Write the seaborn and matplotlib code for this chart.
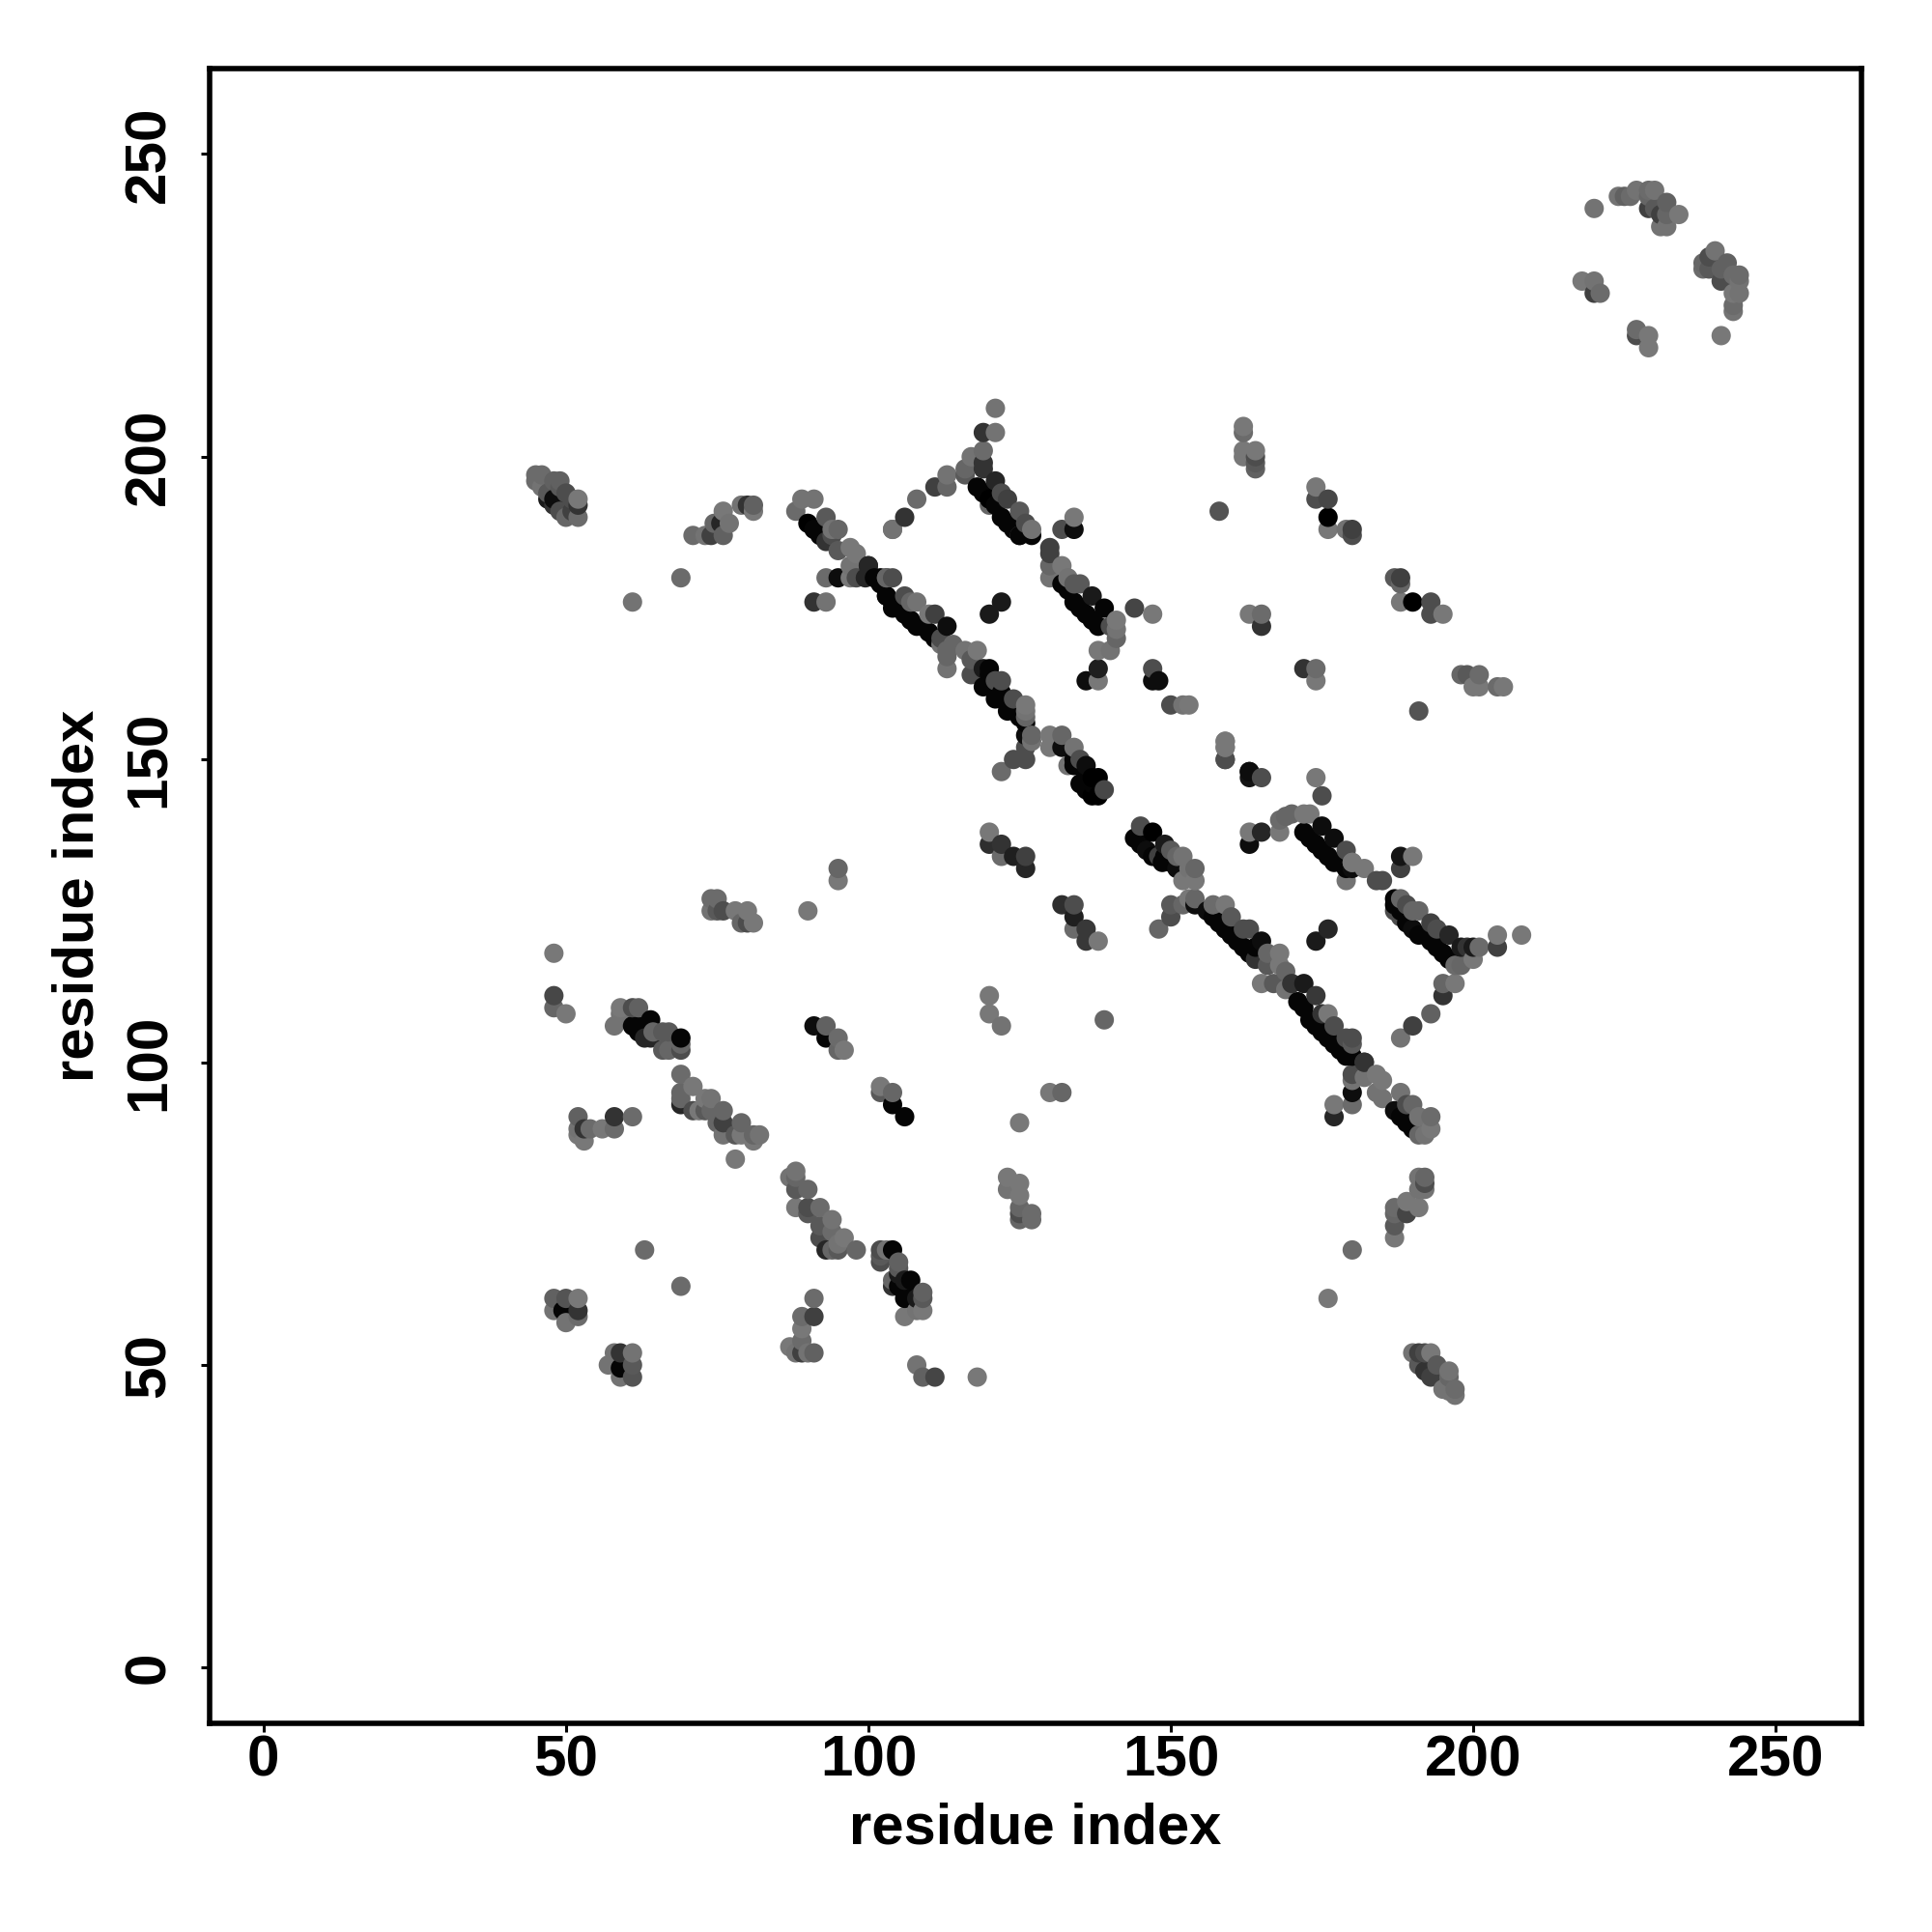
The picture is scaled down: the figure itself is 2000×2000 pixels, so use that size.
import matplotlib
matplotlib.use("Agg")
import matplotlib.pyplot as plt
import pandas as pd
import seaborn as sns

# Contact map: residue pairs (x, y) with grey shade (0 = black), grouped by region
a_x = [45,46,45,46,47,48,47,48,49,50,52,51,52,48,49,49,50,51,52]
a_y = [197,197,196,195,194,193,193,192,191,190,190,191,192,196,196,195,194,193,193]
a_g = [.42,.42,.42,.45,.35,.05,.10,.20,.30,.40,.42,.25,.20,.38,.38,.35,.30,.30,.47]

b_x = [61,69,71,73,74,76,74.5,77,75.6,76,79,80,81,81]
b_y = [176,180,187,187,187,187,189,189,189,191,192,192,192,191]
b_g = [.45,.42,.42,.45,.25,.38,.40,.45,.15,.47,.45,.20,.38,.47]

c_x = [88,89,91,90,92,93,94,95,95,97,98,97,100,104,93,95,97,98,99.5,102,103,91,93,103,104]
c_y = [191,193,193,189,187,190,188,188,184.5,185,184,182,182,188,180,180,180,180,180,180,180,176,176,177,175]
c_g = [.42,.45,.45,.0,.02,.35,.45,.40,.35,.47,.47,.45,.15,.45,.42,.05,.47,.30,.15,.02,.25,.20,.45,.02,.02]

d_x = [121,119,121,119,119,119,117,116,116,113,113,111,108,106,104]
d_y = [208,204,204,201,199,198,200,198,197,197,195,195,193,190,188]
d_g = [.45,.20,.45,.42,.20,.20,.45,.40,.35,.45,.40,.25,.42,.20,.45]

e_x = [118,120,122,124,125,127,121,122,123,125,126,127,120,134,132,134]
e_y = [195,193,190,188,187,187,196,194,193,191,189,188,192,190,188,188]
e_g = [.02,.0,.02,.02,.30,.02,.15,.30,.25,.35,.30,.45,.40,.47,.30,.05]

f_x = [130,130,130,130,132,133,132,134,136,138,134,135,137,139,140,141,141,141,140,138,138,138,136]
f_y = [185,184,182,180,182,180,179,176,174,172,179,179,177,175,172,173,171.5,170,168,168,165,163,163]
f_g = [.25,.25,.40,.45,.47,.45,.02,.02,.02,.02,.35,.35,.10,.02,.30,.47,.45,.40,.45,.47,.12,.47,.05]

g_x = [144,147,147,147,148,150,152,153,158,122,120,159,159,159,163]
g_y = [175,174,165,163,163,159,159,159,191,176,174,153,152,150,148]
g_g = [.27,.47,.30,.05,.05,.30,.45,.47,.33,.10,.10,.47,.45,.27,.05]

h_x = [100,101,103,105,107,110,104,103,106,107,108,111,110,113,112,112,113,113,113,114,116,118,117,117]
h_y = [182,180,177,175,173,171,180,180,177,176,176,174,174,172,170,169,168,167,165,169,168,168,166.5,164]
h_g = [.15,.02,.02,.02,.02,.02,.30,.40,.30,.40,.45,.25,.47,.05,.30,.45,.40,.40,.45,.40,.45,.47,.35,.30]

i_x = [120,119,119,121,123,125,122,121,124,126,126,126]
i_y = [165,165,162,160,158,157,163,163,160,159,158,157]
i_g = [.02,.10,.02,.02,.02,.02,.30,.30,.30,.47,.45,.40]

j_x = [126,127,126,127,126,124,122,130,130,132,134,132,135,136,134]
j_y = [154,154,152,153,150,150,148,154,152,154,152,152,150,149,149]
j_g = [.05,.40,.30,.45,.30,.30,.42,.47,.47,.40,.45,.05,.30,.05,.02]

k_x = [133,135,137,138,137,138,139,159,159,159,163,163,165,174,175]
k_y = [149,146,147,147,144,144,145,153,152,150,148,147,147,147,144]
k_g = [.45,.02,.0,.0,.0,.0,.28,.47,.47,.30,.05,.08,.30,.47,.30]

l_x = [168,168,170,169,172,173,175,172,174,177,176,179,180,179,179,163,165,163]
l_y = [140,138,141,140.6,141,141,139,138,136,137,134,135,133,132,130,138,138,136]
l_g = [.42,.47,.40,.40,.47,.47,.05,.02,.02,.05,.02,.30,.47,.02,.45,.47,.15,.05]

m_x = [144,145,147,146,148,149,150,148.6,151,152,151,153,154,152,154]
m_y = [137,139,138,135,134,136,135,133,134,134,132,132,132,130,130]
m_g = [.02,.30,.0,.05,.25,.10,.35,.02,.40,.45,.05,.45,.40,.47,.47]

n_x = [154,153,154,152,150,150,148,157,159,156,160,158,160,162,163,162,165,164,168,166,168,169,166,165,167,169,170]
n_y = [127,127,126,126,126,124,122,126,126,125,124,123,121,119,122,122,120,117,118,118,116,115,116,113,113,112,113]
n_g = [.40,.47,.05,.40,.35,.30,.40,.42,.47,.05,.35,.02,.02,.02,.30,.30,.05,.20,.47,.40,.47,.40,.35,.47,.35,.45,.20]

o_x = [172,171,174,173,175,177,176,177,175,179,180,180,179,182]
o_y = [113,110,111,107,105,103,108,106,108,104,104,103,101,100]
o_g = [.10,.02,.22,.02,.02,.02,.47,.30,.20,.30,.30,.35,.02,.25]

p_x = [120,120,122,122,124,126,126,132,134,134,134,136,136,138,120,120,122,139,176,174,130,132]
p_y = [138,136,136,134,134,134,132,126,126,124,122,122,120,120,111,108,106,107,122,120,95,95]
p_g = [.47,.18,.20,.42,.12,.25,.15,.18,.30,.12,.42,.22,.22,.47,.47,.47,.45,.40,.15,.10,.47,.40]

q_x = [180,180,182,184,185,188,188,190]
q_y = [133,132,132,130,130,134,132,134]
q_g = [.47,.05,.47,.30,.30,.08,.25,.47]

r_x = [187,188,187,187,188,189,190,191,190,193,193,194,195,196,197,198,199,198,200,200,201,204,204,208]
r_y = [127,127,126,125,124,126,125,125,122,123,120,122,118,121,116,119,119,116,117,119,119,119,121,121]
r_g = [.02,.40,.02,.30,.30,.30,.40,.40,.05,.25,.02,.30,.02,.15,.42,.10,.20,.40,.47,.10,.42,.25,.47,.47]

s_x = [195,197,195,193,190,188,180,180,180,180,177,177,182,182,184,185,184,185,187,188,189,190,189,191,191,192,193,193]
s_y = [113,113,111,108,106,104,98,97,95,93,93,91,100,97.5,98,97,95,94,92,95,90,93,93,91,88,88,91,89]
s_g = [.40,.47,.20,.38,.25,.45,.30,.45,.05,.42,.47,.15,.20,.45,.47,.47,.45,.45,.05,.45,.02,.40,.30,.45,.40,.45,.42,.47]

t_x = [191,192,191,192,192,189,191,189,187,187,187,187,180,176]
t_y = [81,81,79,79,80,77,76,75,76,75,73,71,69,61]
t_g = [.45,.40,.45,.45,.30,.47,.47,.27,.42,.40,.35,.47,.42,.47]

u_x = [190,191,192,193,191,192,193,194,195,196,196,196,197,197]
u_y = [52,52,52,52,50,49,48,50,46,49,48,45.7,45,46]
u_g = [.45,.25,.30,.47,.35,.20,.25,.35,.45,.45,.40,.45,.45,.42]

v_x = [48,48,48,50,59,59,58,61,61,62,63,64,64.4,66,67,66,67,69,69,69]
v_y = [118,111,109,108,109,108,106,106,109,109,104,107,105,105,105,102,102,104,102,103]
v_g = [.47,.28,.40,.47,.47,.45,.45,.02,.30,.38,.15,.02,.40,.35,.35,.35,.40,.02,.30,.40]

w_x = [69,71,69,69,71,69,72,74,73,73,74,76,75,76,76,79,78,79,81,82,81,78]
w_y = [98,96,95,93,92,94,92,94,94,92,92,92,90,90,88,90,88,88,87,88,88,84]
w_g = [.42,.47,.40,.15,.30,.40,.47,.45,.47,.35,.40,.40,.40,.25,.45,.40,.35,.47,.47,.45,.40,.47]

x_x = [52,52,52,53,53,54,56,58,58,61,90,95,95]
x_y = [91,89,88,87,89,89,89,89,91,91,125,132,130]
x_g = [.38,.45,.47,.47,.20,.42,.47,.42,.20,.42,.47,.40,.47]

y_x = [74,75,74,75,76,78,80,79,80,81]
y_y = [127,127,125,125,125,125,125,123,123,123]
y_g = [.42,.42,.45,.35,.30,.47,.47,.40,.30,.47]

z_x = [91,93,93,95,95,96,102,102,104,104,106,125]
z_y = [106,106,104,104,102,102,96,95,95,93,91,90]
z_g = [.05,.38,.02,.42,.40,.47,.47,.35,.40,.02,.02,.47]

aa_x = [88,87,88,90,88,88,90,90,92,92,92,94,94,93,95,94,96,95,98]
aa_y = [82,81,79,79,76,81,76,75,76,73,71,74,72,69,69,69,71,70,69]
aa_g = [.45,.45,.35,.40,.47,.40,.30,.35,.42,.35,.30,.45,.42,.15,.35,.40,.47,.45,.40]

ab_x = [102,104,102,102,103,105,105,104,104,107,106,106,108,109,109,106,108,109]
ab_y = [69,69,67,68,69,67,66,63,64,64,64,61,61,62,61,58,59,59]
ab_g = [.30,.02,.30,.35,.45,.38,.35,.20,.40,.02,.10,.02,.10,.38,.35,.47,.45,.47]

ac_x = [91,89,91,89,89,87,88,89,90,91,108,109,111,118]
ac_y = [61,58,58,56,54,53,52,52,52,52,50,48,48,48]
ac_g = [.42,.42,.25,.47,.42,.47,.45,.25,.45,.38,.45,.38,.27,.47]

ad_x = [123,123,125,125,125,125,125,127,127]
ad_y = [81,79,80,78,76,75,74,75,74]
ad_g = [.47,.45,.47,.47,.40,.30,.40,.42,.42]

ae_x = [48,48,50,50,49.5,52,52,52,69,58,57,59,59,59,61,61,61,63]
ae_y = [61,59,61,57,59,61,58,59,63,52,50,52,49.5,48,52,50,48,69]
ae_g = [.38,.45,.33,.45,.02,.47,.42,.20,.42,.45,.45,.20,.02,.45,.45,.35,.33,.42]

af_x = [162,162,162,162,164,164,164,164,174,174,176,176,176,179,180,180]
af_y = [205,204,201,200,201,200,199,198,195,193,193,190,188,188,188,187]
af_g = [.47,.42,.47,.47,.47,.30,.35,.38,.47,.30,.28,.0,.47,.45,.25,.30]

ag_x = [187,188,188,188,190,193,193,195,163,165,165,172,174,174]
ag_y = [180,180,179,176,176,176,174,174,174,174,172,165,165,163]
ag_g = [.35,.25,.40,.47,.0,.30,.30,.47,.47,.42,.20,.20,.42,.47]

ah_x = [198,199,201,200,201,204,205,191]
ah_y = [164,164,164,162,162,162,162,158]
ah_g = [.40,.35,.42,.47,.47,.42,.47,.33]

ai_x = [220,224,225,226,227,229,230,229,230,229,231,232,231,232,234,232]
ai_y = [241,243,243,243,244,244,244,241,241,243,240,242,238,238,240,240]
ai_g = [.45,.45,.38,.42,.45,.42,.45,.25,.35,.40,.25,.38,.45,.45,.47,.40]

aj_x = [238,238,240,239,239,241,242,241,244,243,244,243,244,243,243,241]
aj_y = [232,231,234,233,231,229,232,231,230,230,229,227,227,225,224,220]
aj_g = [.40,.42,.45,.30,.35,.30,.38,.38,.42,.42,.45,.47,.45,.42,.45,.47]

ak_x = [218,220,220,221,227,227,229,229]
ak_y = [229,229,227,227,221,220,220,218]
ak_g = [.47,.45,.25,.42,.42,.30,.47,.47]

# dark edge of the diagonal bands
al_x = [91,93,94,102,104,106,108,109,111,119,121,123,125,133,135,137,120,122,124,126]
al_y = [188,186,187,179,176,174,172,172,170,194,192,189,187,178,175,173,164,161,159,156]
al_g = [.02,.20,.30,.02,.02,.02,.02,.02,.02,.02,.02,.02,.02,.02,.02,.02,.02,.02,.02,.02]

am_x = [134,136,136,137,145,147,149,150,157,159,161,163,164,172,174,176,178,180]
am_y = [150,147,145,146,136,134,134,133,124,122,120,118,119,109,106,104,102,101]
am_g = [.02,.02,.02,.02,.02,.02,.02,.02,.02,.02,.02,.02,.02,.02,.02,.02,.02,.02]

an_x = [173,175,177,178,188,189,191,192,194,196,188,190,62,62,64,105,107,105]
an_y = [137,135,133,133,125,123,121,121,119,117,91,89,106,105,104,63,61,65]
an_g = [.02,.02,.02,.02,.02,.02,.02,.02,.02,.02,.02,.02,.02,.02,.15,.02,.02,.10]

groups = [
    (a_x,a_y,a_g),(b_x,b_y,b_g),(c_x,c_y,c_g),(d_x,d_y,d_g),(e_x,e_y,e_g),(f_x,f_y,f_g),
    (g_x,g_y,g_g),(h_x,h_y,h_g),(i_x,i_y,i_g),(j_x,j_y,j_g),(k_x,k_y,k_g),(l_x,l_y,l_g),
    (m_x,m_y,m_g),(n_x,n_y,n_g),(o_x,o_y,o_g),(p_x,p_y,p_g),(q_x,q_y,q_g),(r_x,r_y,r_g),
    (s_x,s_y,s_g),(t_x,t_y,t_g),(u_x,u_y,u_g),(v_x,v_y,v_g),(w_x,w_y,w_g),(x_x,x_y,x_g),
    (y_x,y_y,y_g),(z_x,z_y,z_g),(aa_x,aa_y,aa_g),(ab_x,ab_y,ab_g),(ac_x,ac_y,ac_g),
    (ad_x,ad_y,ad_g),(ae_x,ae_y,ae_g),(af_x,af_y,af_g),(ag_x,ag_y,ag_g),(ah_x,ah_y,ah_g),
    (ai_x,ai_y,ai_g),(aj_x,aj_y,aj_g),(ak_x,ak_y,ak_g),(al_x,al_y,al_g),(am_x,am_y,am_g),
    (an_x,an_y,an_g),
]
df = pd.concat([pd.DataFrame({"x": gx, "y": gy, "shade": gs}) for gx, gy, gs in groups])
# later residues paint over earlier ones
df = df.sort_values(["x", "y"], kind="stable").reset_index(drop=True)

tick_vals = [0, 50, 100, 150, 200, 250]

sns.set_theme(style="white")
plt.rcParams["font.family"] = ["Liberation Sans", "DejaVu Sans"]
plt.rcParams["font.weight"] = "bold"
plt.rcParams["text.color"] = "black"
plt.rcParams["axes.labelcolor"] = "black"

fig = plt.figure(figsize=(10, 10), dpi=200, facecolor="white")
ax = fig.add_axes([216.5/2000, 1 - 1783.5/2000, (1927-216.5)/2000, (1783.5-71)/2000])

palette = {s: str(s) for s in df["shade"].unique()}
sns.scatterplot(data=df, x="x", y="y", hue="shade", palette=palette, s=52,
                linewidth=0, legend=False, ax=ax, clip_on=True)

ax.set_xlim(-9, 264.2)
ax.set_ylim(-9.1, 264.1)
ax.set_xticks(tick_vals)
ax.set_yticks(tick_vals)
ax.set_xlabel("residue index", fontsize=21.5, fontweight="bold", labelpad=5.5)
ax.set_ylabel("residue index", fontsize=21.5, fontweight="bold", labelpad=7)
ax.tick_params(axis="x", direction="out", length=3.2, width=1.1, labelsize=21.7,
               color="black", labelcolor="black", bottom=True, pad=1)
ax.tick_params(axis="y", direction="out", length=3.2, width=1.1, labelsize=21.7,
               color="black", labelcolor="black", left=True, pad=9)
for lab in ax.get_xticklabels() + ax.get_yticklabels():
    lab.set_fontweight("bold")
for lab in ax.get_yticklabels():
    lab.set_rotation(90)
    lab.set_va("center")
for sp in ax.spines.values():
    sp.set_visible(True)
    sp.set_linewidth(2.0)
    sp.set_color("black")

fig.savefig("out.png", dpi=200, facecolor="white")
